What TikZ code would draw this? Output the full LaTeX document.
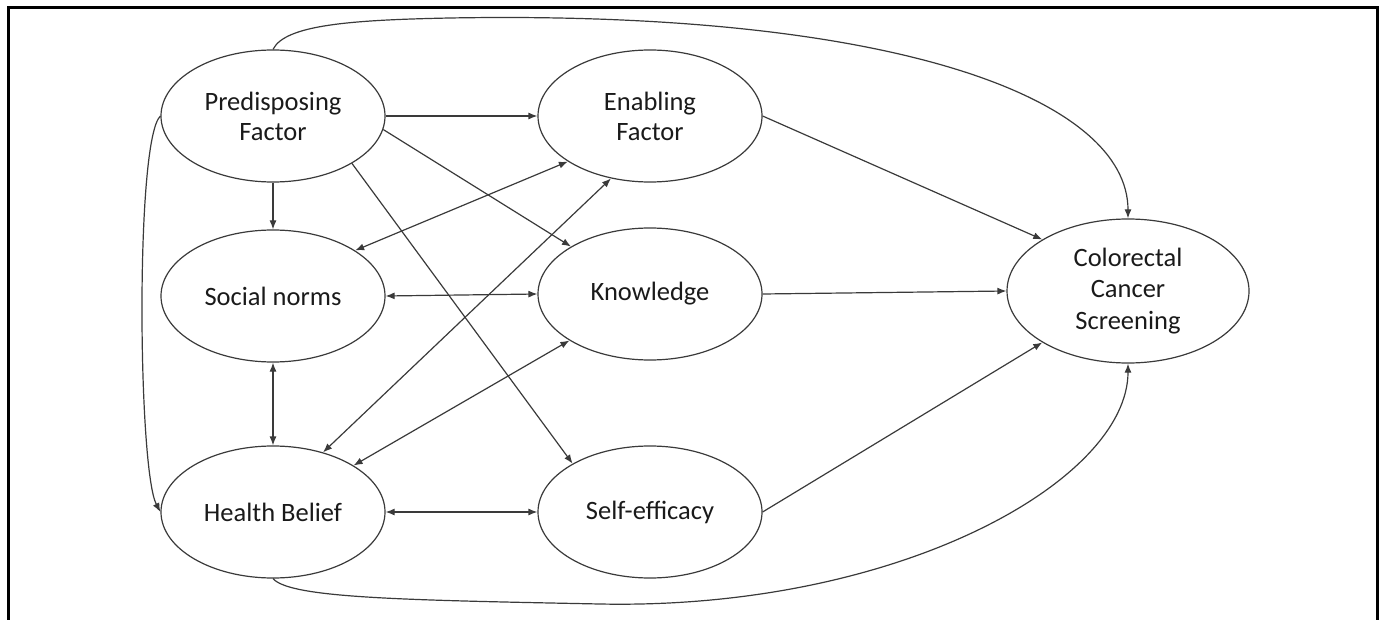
\documentclass[tikz,border=0pt]{standalone}
\usepackage{fontspec}
\setmainfont{Carlito}
\usetikzlibrary{shapes.geometric,arrows.meta}
\definecolor{linec}{HTML}{3A3A3A}
\definecolor{textc}{HTML}{1A1A1A}
\tikzset{
  factor/.style={ellipse,draw=linec,line width=1.2pt,inner sep=0pt,
    minimum width=224pt,minimum height=132pt,align=center,text=textc,
    font=\fontsize{26.5}{30}\selectfont},
  conn/.style={draw=linec,line width=1.2pt},
  arr/.style={conn,-{Latex[length=9pt,width=7pt]}},
  dbl/.style={conn,{Latex[length=9pt,width=7pt]}-{Latex[length=9pt,width=7pt]}}
}
\begin{document}
\begin{tikzpicture}[x=1pt,y=-1pt]
\useasboundingbox (0,0) rectangle (1380,620);
\draw[line width=3pt,black] (8,8) rectangle (1377,660);

\node[factor] (pred) at (273,116) {Predisposing\\Factor};
\node[factor] (sn) at (273,296) {Social norms};
\node[factor] (hb) at (273,512) {Health Belief};
\node[factor] (enab) at (650,116) {Enabling\\Factor};
\node[factor] (know) at (650,294) {Knowledge};
\node[factor] (self) at (650,512) {Self-efficacy};
\node[factor,minimum width=242pt,minimum height=144pt,
  font=\fontsize{26.5}{31.5}\selectfont] (crc) at (1128,291) {Colorectal\\Cancer\\Screening};

% straight connectors
\draw[arr] (pred.east) -- (enab.west);
\draw[arr] (pred.south) -- (sn.north);
\draw[arr] (pred.-7.6) -- (know.149);
\draw[arr] (pred.-31) -- (self.148.4);
\draw[dbl] (enab.209.8) -- (sn.29.4);
\draw[dbl] (enab.238) -- (hb.50);
\draw[dbl] (know.210.4) -- (hb.30.4);
\draw[dbl] (sn.east) -- (know.west);
\draw[dbl] (sn.south) -- (hb.north);
\draw[dbl] (hb.east) -- (self.west);
\draw[arr] (enab.east) -- (crc.149.8);
\draw[arr] (know.east) -- (crc.west);
\draw[arr] (self.east) -- (crc.211);

% curved connectors
\draw[arr] (pred.north) .. controls (285,25) and (350,20) .. (450,18)
  .. controls (900,10) and (1128,100) .. (crc.north);
\draw[arr] (pred.west) .. controls (135,140) and (138,470) .. (hb.west);
\draw[arr] (hb.south) .. controls (290,598) and (400,600) .. (600,604)
  .. controls (900,610) and (1128,480) .. (crc.south);
\end{tikzpicture}
\end{document}
